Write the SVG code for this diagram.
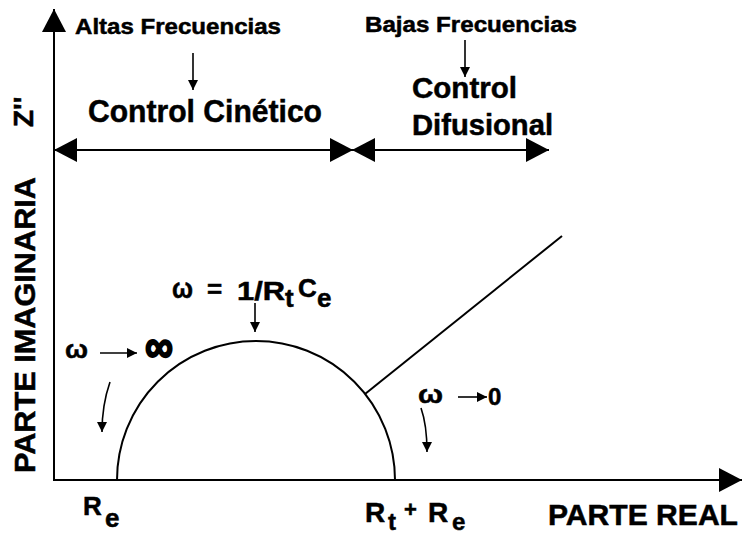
<svg xmlns="http://www.w3.org/2000/svg" width="742" height="537" viewBox="0 0 742 537">
<style>
text{font-family:"Liberation Sans",Arial,sans-serif;font-weight:bold;fill:#000;stroke:#000;stroke-width:0.5}
.ln{fill:none;stroke:#000;stroke-width:2}
.sm{fill:none;stroke:#000;stroke-width:1.6}
</style>
<defs>
<marker id="big" viewBox="0 0 23 24" refX="23" refY="12" markerWidth="23" markerHeight="24" markerUnits="userSpaceOnUse" orient="auto-start-reverse"><path d="M0,0 L23,12 L0,24 Z" fill="#000"/></marker>
<marker id="small" viewBox="0 0 10 10" refX="10" refY="5" markerWidth="10" markerHeight="10" markerUnits="userSpaceOnUse" orient="auto"><path d="M0,0 L10,5 L0,10 Z" fill="#000"/></marker>
</defs>
<rect width="742" height="537" fill="#fff"/>
<g id="connectors">
<path class="ln" d="M54,481 L54,9" marker-end="url(#big)"/>
<path class="ln" d="M53,480 L742,480" marker-end="url(#big)"/>
<path class="ln" d="M54,150 L353,150" marker-start="url(#big)" marker-end="url(#big)"/>
<path class="ln" d="M352,150 L549,150" marker-start="url(#big)" marker-end="url(#big)"/>
<path class="sm" d="M193,53 L193,90" marker-end="url(#small)"/>
<path class="sm" d="M465,40 L465,77" marker-end="url(#small)"/>
<path class="sm" d="M255,303 L255,332" marker-end="url(#small)"/>
<path class="sm" d="M100,353 L137,353" marker-end="url(#small)"/>
<path class="sm" d="M458,397 L487,397" marker-end="url(#small)"/>
<path class="sm" d="M110,382 Q102,405 102,432" marker-end="url(#small)"/>
<path class="sm" d="M421,408 Q427,425 427,452" marker-end="url(#small)"/>
</g>
<g id="curve">
<path class="ln" d="M117,480 A139,139 0 0 1 395,480"/>
<path class="ln" d="M365,394 L562,236"/>
</g>
<g id="labels-top">
<text x="75" y="34" font-size="22" textLength="206" lengthAdjust="spacingAndGlyphs">Altas Frecuencias</text>
<text x="365" y="32" font-size="22" textLength="212" lengthAdjust="spacingAndGlyphs">Bajas Frecuencias</text>
<text x="88" y="122" font-size="32" textLength="234" lengthAdjust="spacingAndGlyphs">Control Cinético</text>
<text x="412" y="98" font-size="29" textLength="105" lengthAdjust="spacingAndGlyphs">Control</text>
<text x="412" y="135" font-size="29" textLength="141" lengthAdjust="spacingAndGlyphs">Difusional</text>
</g>
<g id="axis-labels">
<text transform="translate(33,127) rotate(-90)" font-size="28">Z''</text>
<text transform="translate(35,473) rotate(-90)" font-size="30" textLength="296" lengthAdjust="spacingAndGlyphs">PARTE IMAGINARIA</text>
<text x="548" y="525" font-size="29" textLength="190" lengthAdjust="spacingAndGlyphs">PARTE REAL</text>
</g>
<g id="Re">
<text x="83" y="515" font-size="26">R</text>
<text x="105" y="527" font-size="26">e</text>
</g>
<g id="RtRe">
<text x="365" y="522" font-size="28">R</text>
<text x="388" y="530" font-size="24">t</text>
<text x="404" y="517" font-size="22">+</text>
<text x="428" y="522" font-size="28">R</text>
<text x="452" y="530" font-size="24">e</text>
</g>
<g id="omega-peak">
<text x="172" y="298" font-size="27" textLength="21" lengthAdjust="spacingAndGlyphs">ω</text>
<text x="207" y="298" font-size="26">=</text>
<text x="237" y="300" font-size="26" textLength="48" lengthAdjust="spacingAndGlyphs">1/R</text>
<text x="285" y="307" font-size="26">t</text>
<text x="298" y="297" font-size="26">C</text>
<text x="317" y="307" font-size="26">e</text>
</g>
<g id="omega-inf">
<text x="65" y="358" font-size="26" textLength="23" lengthAdjust="spacingAndGlyphs">ω</text>
<text transform="translate(145,362) scale(1,1.15)" font-size="40" textLength="28" lengthAdjust="spacingAndGlyphs" style="stroke-width:1.8">∞</text>
</g>
<g id="omega-zero">
<text x="418" y="403" font-size="26" textLength="25" lengthAdjust="spacingAndGlyphs">ω</text>
<text x="488" y="405" font-size="24">0</text>
</g>
</svg>
